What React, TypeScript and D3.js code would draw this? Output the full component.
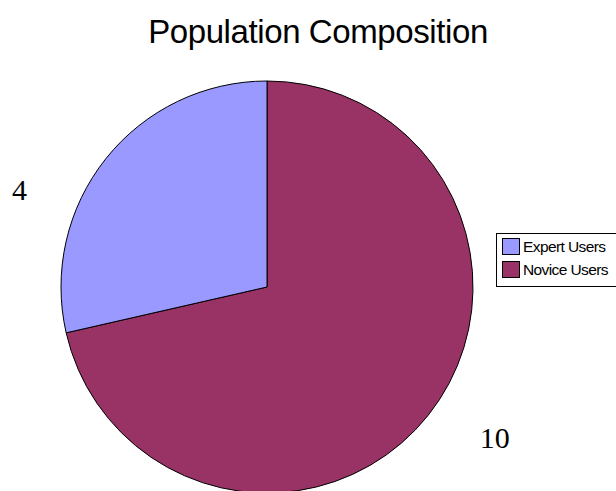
import React from "react";
import * as d3 from "d3";

// Population shares
const categories = ["Expert Users", "Novice Users"];
const values = [4, 10];
const colors = ["#9999FF", "#993366"];
// Slices are laid out clockwise from 12 o'clock in this order
const drawOrder = [1, 0];

const W = 616;
const H = 491;
const cx = 267;
const cy = 287;
const radius = 206;

export default function App() {
  const items = drawOrder.map((i) => ({ name: categories[i], value: values[i], color: colors[i] }));
  const pie = d3.pie<any>().sort(null).value((d) => d.value);
  const arcs = pie(items);
  const arc = d3.arc<any>().innerRadius(0).outerRadius(radius);

  // value label positions: angle (deg, clockwise from top) and distance from center
  const labelPlace: Record<string, [number, number]> = {
    "Expert Users": [291.5, 266],
    "Novice Users": [123.5, 273],
  };

  return (
    <svg
      width={W}
      height={H}
      style={{ position: "absolute", left: 0, top: 0, background: "#fff" }}
    >
      <text
        x={318}
        y={43}
        textAnchor="middle"
        fontFamily="Liberation Sans, Arial, sans-serif"
        fontSize={33}
        letterSpacing={-0.4}
        fill="#000"
      >
        Population Composition
      </text>
      <g transform={`translate(${cx},${cy})`}>
        {arcs.map((a) => (
          <path key={a.data.name} d={arc(a) as string} fill={a.data.color} stroke="#000" strokeWidth={1} />
        ))}
        {arcs.map((a) => {
          const [deg, dist] = labelPlace[a.data.name];
          const t = (deg * Math.PI) / 180;
          return (
            <text
              key={"l" + a.data.name}
              x={dist * Math.sin(t)}
              y={-dist * Math.cos(t)}
              dy="0.35em"
              textAnchor="middle"
              fontFamily="Liberation Serif, Times New Roman, serif"
              fontSize={30}
              fill="#000"
            >
              {a.data.value}
            </text>
          );
        })}
      </g>
      <g>
        <rect x={496.5} y={233.5} width={130} height={53} fill="#fff" stroke="#000" strokeWidth={1} />
        {categories.map((c, i) => (
          <g key={c} transform={`translate(502, ${238 + i * 23})`}>
            <rect x={0.5} y={0.5} width={17} height={16} fill={colors[i]} stroke="#000" strokeWidth={1} />
            <text
              x={21}
              y={14}
              fontFamily="Liberation Sans, Arial, sans-serif"
              fontSize={15.5}
              letterSpacing={-0.6}
              fill="#000"
            >
              {c}
            </text>
          </g>
        ))}
      </g>
    </svg>
  );
}
